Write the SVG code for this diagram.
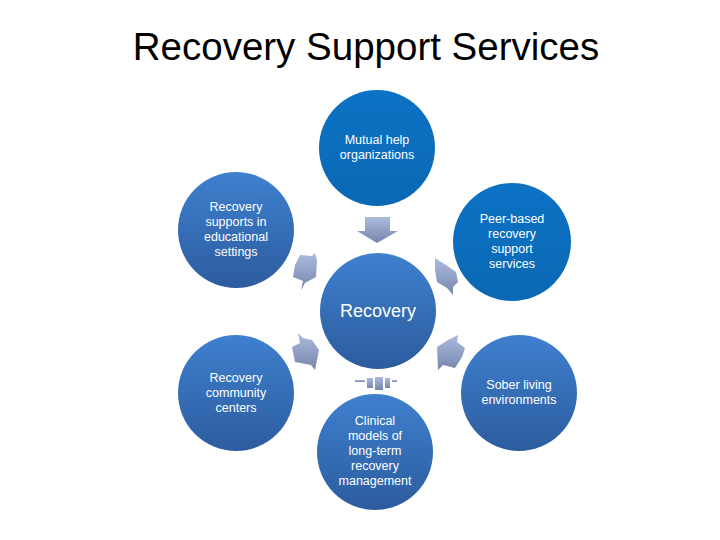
<svg xmlns="http://www.w3.org/2000/svg" width="720" height="540" viewBox="0 0 720 540">
<defs>
<linearGradient id="gBlue" x1="0" y1="0" x2="0" y2="1">
<stop offset="0" stop-color="#3F80CF"/>
<stop offset="1" stop-color="#2C5C9E"/>
</linearGradient>
<linearGradient id="gBright" x1="0" y1="0" x2="0" y2="1">
<stop offset="0" stop-color="#0C72C4"/>
<stop offset="1" stop-color="#0A68B4"/>
</linearGradient>
<linearGradient id="gArrow" x1="0" y1="0" x2="0" y2="1">
<stop offset="0" stop-color="#ABBBDE"/>
<stop offset="1" stop-color="#7886AD"/>
</linearGradient>
<style>
.bright{fill:url(#gBright)}
.grad{fill:url(#gBlue)}
.lbl{font-family:"Liberation Sans",Arial,sans-serif;font-size:12.5px;fill:#FFFFFF;text-anchor:middle}
.big{font-family:"Liberation Sans",Arial,sans-serif;font-size:18px;fill:#FFFFFF;text-anchor:middle}
.title{font-family:"Liberation Sans",Arial,sans-serif;font-size:38.5px;fill:#000000;text-anchor:middle}
.arrow{fill:url(#gArrow)}
</style>
</defs>
<rect width="720" height="540" fill="#FFFFFF"/>
<text class="title" x="366" y="60">Recovery Support Services</text>

<g id="connectors">
<polygon class="arrow" points="365,217 390,217 390,231 398,231 377,243 357,231 365,231"/>
<polygon class="arrow" points="300,255 312,256 315,253 317,260 316,277 305,283 301,290 303,281 293,277 295,265"/>
<polygon class="arrow" points="435,258 446,265 456,272 458,282 453,287 453,295 447,288 437,282 435,270"/>
<polygon class="arrow" points="298,333 303,338 312,340 319,350 317,360 315,370 311,365 295,362 292,347 300,343"/>
<polygon class="arrow" points="458,335 457,342 465,348 462,357 455,368 443,365 438,370 437,347 448,340"/>
<g class="arrow">
<rect x="355" y="380" width="10" height="2"/>
<rect x="367" y="378" width="6" height="10"/>
<rect x="375" y="377" width="8" height="13"/>
<rect x="385" y="378" width="5" height="10"/>
<rect x="392" y="380" width="5" height="2"/>
</g>
</g>

<g id="node-mutual">
<circle class="bright" cx="377" cy="148" r="58"/>
<text class="lbl" x="377" y="144">Mutual help</text>
<text class="lbl" x="377" y="159">organizations</text>
</g>

<g id="node-educational">
<circle class="grad" cx="236" cy="230" r="58"/>
<text class="lbl" x="236" y="211">Recovery</text>
<text class="lbl" x="236" y="226">supports in</text>
<text class="lbl" x="236" y="241">educational</text>
<text class="lbl" x="236" y="256">settings</text>
</g>

<g id="node-peer">
<circle class="bright" cx="512" cy="242" r="59"/>
<text class="lbl" x="512" y="223">Peer-based</text>
<text class="lbl" x="512" y="238">recovery</text>
<text class="lbl" x="512" y="253">support</text>
<text class="lbl" x="512" y="268">services</text>
</g>

<g id="node-recovery">
<circle class="grad" cx="378" cy="311" r="58"/>
<text class="big" x="378" y="317">Recovery</text>
</g>

<g id="node-community">
<circle class="grad" cx="236" cy="393" r="58"/>
<text class="lbl" x="236" y="382">Recovery</text>
<text class="lbl" x="236" y="397">community</text>
<text class="lbl" x="236" y="412">centers</text>
</g>

<g id="node-sober">
<circle class="grad" cx="519" cy="393" r="58"/>
<text class="lbl" x="519" y="389">Sober living</text>
<text class="lbl" x="519" y="404">environments</text>
</g>

<g id="node-clinical">
<circle class="grad" cx="375" cy="452" r="58"/>
<text class="lbl" x="375" y="425">Clinical</text>
<text class="lbl" x="375" y="440">models of</text>
<text class="lbl" x="375" y="455">long-term</text>
<text class="lbl" x="375" y="470">recovery</text>
<text class="lbl" x="375" y="485">management</text>
</g>
</svg>
